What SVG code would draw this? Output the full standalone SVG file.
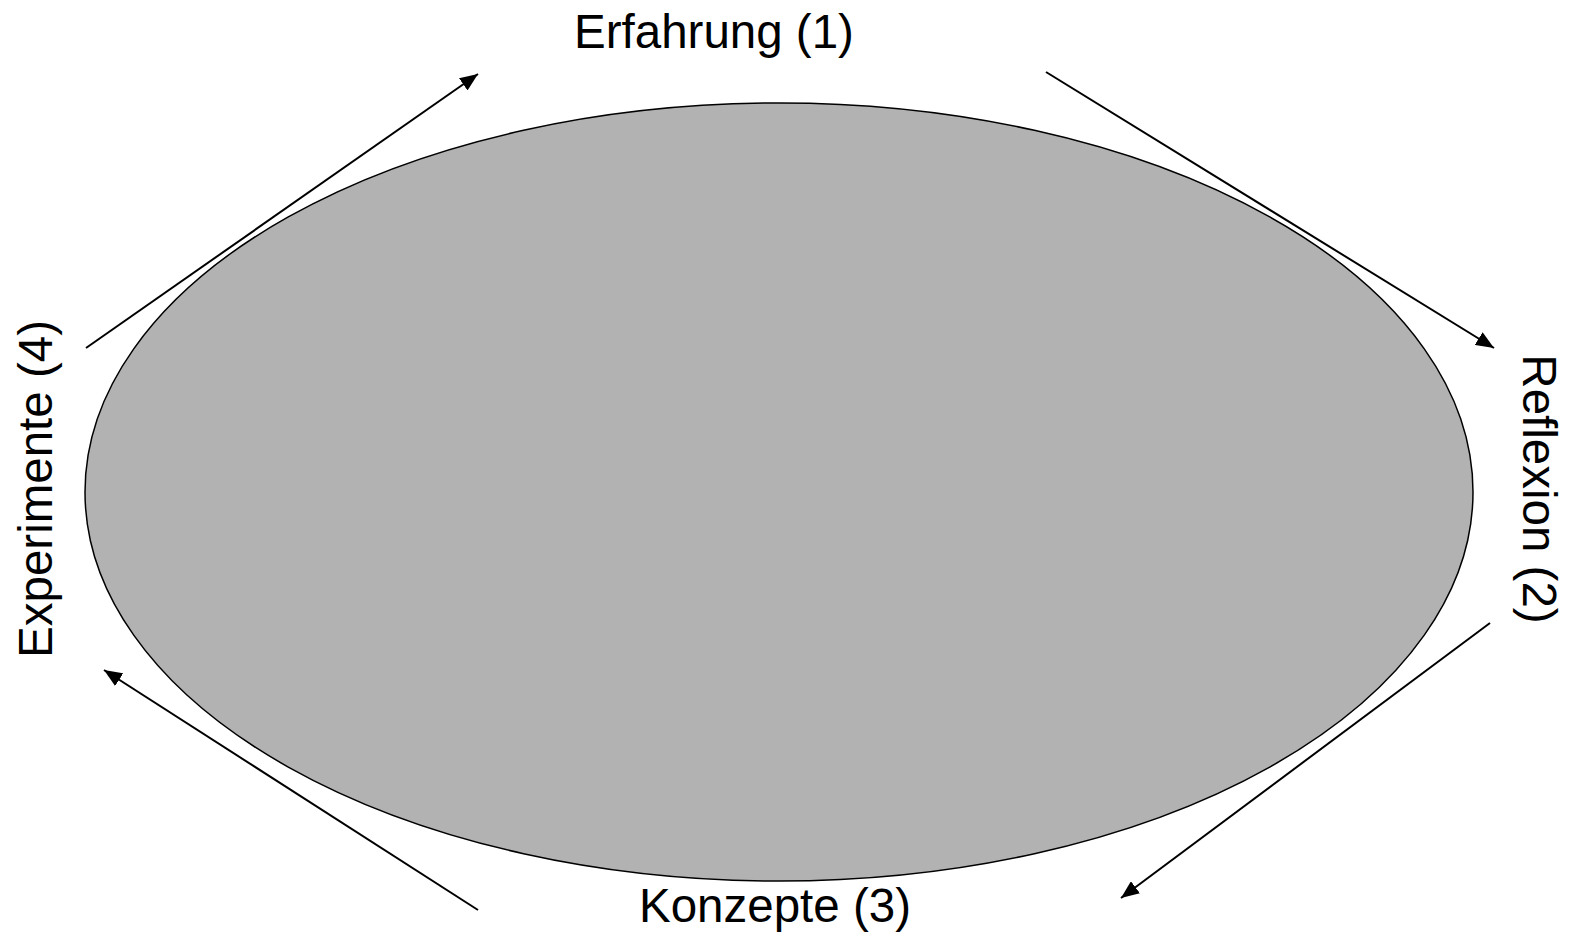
<svg xmlns="http://www.w3.org/2000/svg" width="1572" height="937" viewBox="0 0 1572 937">
<style>
.lbl{font-family:"Liberation Sans",Arial,sans-serif;font-size:47.5px;fill:#000}
.con{stroke:#000;stroke-width:2;fill:none}
</style>
<defs>
<marker id="ah" viewBox="0 0 10 10" refX="10" refY="5" markerWidth="18" markerHeight="15" markerUnits="userSpaceOnUse" orient="auto" preserveAspectRatio="none">
<path d="M0,0 L10,5 L0,10 Z" fill="#000"/>
</marker>
</defs>
<rect width="1572" height="937" fill="#fff"/>
<g id="cycle">
<ellipse cx="779" cy="492" rx="694" ry="389" fill="#b2b2b2" stroke="#000" stroke-width="1.5"/>
</g>
<g id="connectors">
<line class="con" x1="86" y1="348" x2="478" y2="74" marker-end="url(#ah)"/>
<line class="con" x1="1046" y1="72" x2="1494" y2="348" marker-end="url(#ah)"/>
<line class="con" x1="1490" y1="623" x2="1121" y2="898" marker-end="url(#ah)"/>
<line class="con" x1="478" y1="910" x2="104" y2="670" marker-end="url(#ah)"/>
</g>
<g id="n1"><text class="lbl" x="714" y="48" text-anchor="middle">Erfahrung (1)</text></g>
<g id="n2"><text class="lbl" text-anchor="middle" transform="translate(1523,489) rotate(90)">Reflexion (2)</text></g>
<g id="n3"><text class="lbl" x="775" y="922" text-anchor="middle">Konzepte (3)</text></g>
<g id="n4"><text class="lbl" text-anchor="middle" transform="translate(52,489) rotate(-90)">Experimente (4)</text></g>
</svg>
